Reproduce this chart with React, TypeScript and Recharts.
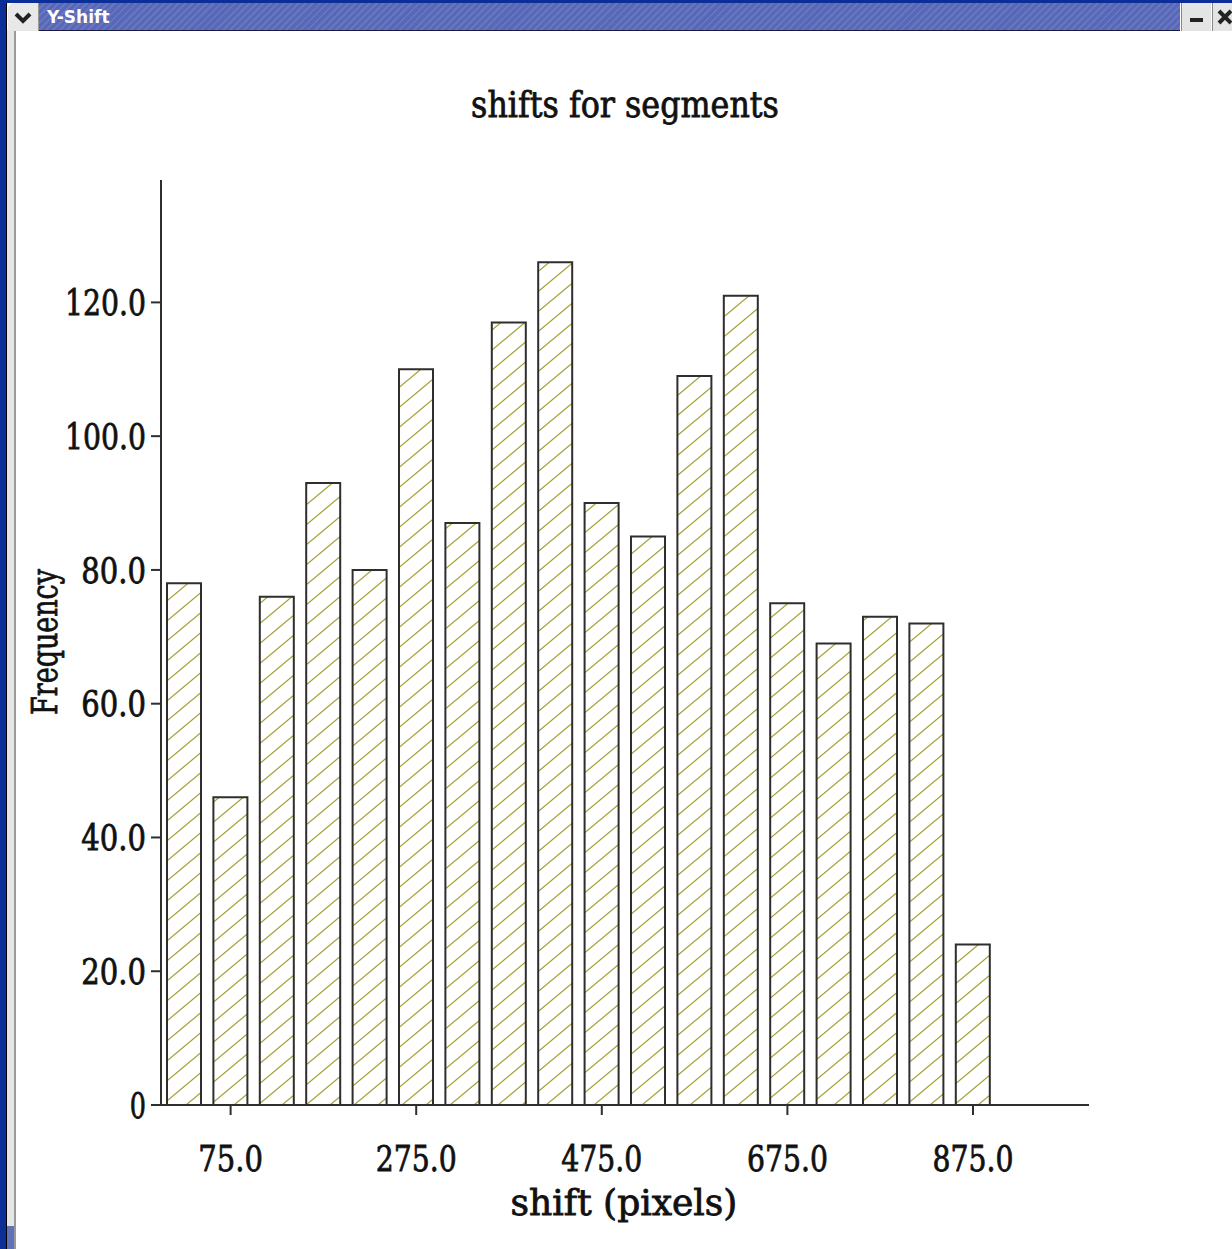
import { BarChart, Bar, XAxis, YAxis } from 'recharts';

const binCenters = [25, 75, 125, 175, 225, 275, 325, 375, 425, 475, 525, 575, 625, 675, 725, 775, 825, 875];
const frequencies = [78, 46, 76, 93, 80, 110, 87, 117, 126, 90, 85, 109, 121, 75, 69, 73, 72, 24];
const xTicks = [75, 275, 475, 675, 875];
const yTicks = [0, 20, 40, 60, 80, 100, 120];

const data = binCenters.map((bin, i) => ({ bin, freq: frequencies[i] }));

const FONT = '"DejaVu Serif", "Liberation Serif", serif';
const CHAR_W = 16.2;
const INK = '#2e2e2e';

const fmt = (v: number) => (v === 0 ? '0' : v.toFixed(1));

// typewriter-ish label: serif glyphs squeezed to a fixed cell width
function Mono({ text, anchor, transform, dy }: { text: string; anchor: string; transform: string; dy?: string }) {
  return (
    <text
      transform={transform}
      textAnchor={anchor}
      dy={dy}
      fontFamily={FONT}
      fontSize={35}
      fill="#111"
      stroke="#111"
      strokeWidth={0.8}
      textLength={text.length * CHAR_W}
      lengthAdjust="spacingAndGlyphs"
    >
      {text}
    </text>
  );
}

function XTick({ x, y, payload }: any) {
  return <Mono text={fmt(payload.value)} anchor="middle" transform={`translate(${x},${y + 54})`} />;
}

function YTick({ x, y, payload }: any) {
  return <Mono text={fmt(payload.value)} anchor="end" transform={`translate(${x},${y})`} dy="0.36em" />;
}

function WindowFrame() {
  return (
    <>
      <div style={{ position: 'absolute', left: 0, top: 0, width: 6, height: 1249, background: '#0b2f96' }} />
      <div style={{ position: 'absolute', left: 6, top: 0, width: 1, height: 1249, background: '#000' }} />
      <div style={{ position: 'absolute', left: 7, top: 30, width: 7, height: 1196, background: '#e6e6e6' }} />
      <div style={{ position: 'absolute', left: 7, top: 1226, width: 7, height: 23, background: '#6272b8' }} />
      <div style={{ position: 'absolute', left: 14, top: 30, width: 2, height: 1219, background: '#9a9a9a' }} />
      <div style={{ position: 'absolute', left: 0, top: 0, width: 1232, height: 3, background: '#0b2f96' }} />
      <div
        style={{
          position: 'absolute', left: 8, top: 3, width: 30, height: 28,
          background: '#e8e8e8', borderTopLeftRadius: 6, borderRight: '1px solid #999',
        }}
      >
        <svg width={30} height={28}>
          <polyline points="8,11 15,18 22,11" fill="none" stroke="#222" strokeWidth={4} />
        </svg>
      </div>
      <div
        style={{
          position: 'absolute', left: 39, top: 3, width: 1141, height: 28,
          background: 'repeating-linear-gradient(135deg, #5868b6 0px, #5868b6 3px, #6676c0 3px, #6676c0 5px)',
          borderBottom: '1px solid #1a1a40',
          color: '#fff', fontFamily: '"DejaVu Sans", sans-serif', fontWeight: 'bold', fontSize: 17,
          lineHeight: '28px', paddingLeft: 8, boxSizing: 'border-box',
        }}
      >
        Y-Shift
      </div>
      <div style={{ position: 'absolute', left: 1181, top: 3, width: 29, height: 28, background: '#e4e4e4', borderLeft: '1px solid #888' }}>
        <div style={{ position: 'absolute', left: 8, top: 15, width: 13, height: 4, background: '#222' }} />
      </div>
      <div style={{ position: 'absolute', left: 1212, top: 3, width: 20, height: 28, background: '#e4e4e4', borderLeft: '1px solid #888' }}>
        <svg width={20} height={28}>
          <path d="M6,8 L18,20 M18,8 L6,20" stroke="#222" strokeWidth={4} />
        </svg>
      </div>
    </>
  );
}

export default function App() {
  return (
    <div style={{ position: 'absolute', left: 0, top: 0, width: 1232, height: 1249, background: '#fff', overflow: 'hidden' }}>
      <WindowFrame />
      <div style={{ position: 'absolute', left: 0, top: 0 }}>
        <BarChart
          width={1232}
          height={1249}
          data={data}
          margin={{ top: 180, right: 143, bottom: 84, left: 101 }}
        >
          <defs>
            <pattern id="hatch" patternUnits="userSpaceOnUse" width={24} height={20}>
              <path d="M0,20 L24,0 M-3,2.5 L3,-2.5 M21,22.5 L27,17.5" stroke="#a29d2c" strokeWidth={1.2} />
            </pattern>
          </defs>
          <XAxis
            type="number"
            dataKey="bin"
            domain={[0, 1000]}
            ticks={xTicks}
            height={60}
            tickSize={10}
            tickMargin={2}
            stroke={INK}
            strokeWidth={2}
            tick={<XTick />}
            interval={0}
          />
          <YAxis
            domain={[0, 138.3]}
            ticks={yTicks}
            width={60}
            tickSize={10}
            tickMargin={5}
            stroke={INK}
            strokeWidth={2}
            tick={<YTick />}
            interval={0}
          />
          <Bar dataKey="freq" barSize={34} fill="url(#hatch)" stroke={INK} strokeWidth={2} isAnimationActive={false} />
          <Mono text="shifts for segments" anchor="middle" transform="translate(625,117)" />
          <Mono text="shift (pixels)" anchor="middle" transform="translate(624,1215)" />
          <Mono text="Frequency" anchor="middle" transform="translate(57,642) rotate(-90)" />
        </BarChart>
      </div>
    </div>
  );
}
